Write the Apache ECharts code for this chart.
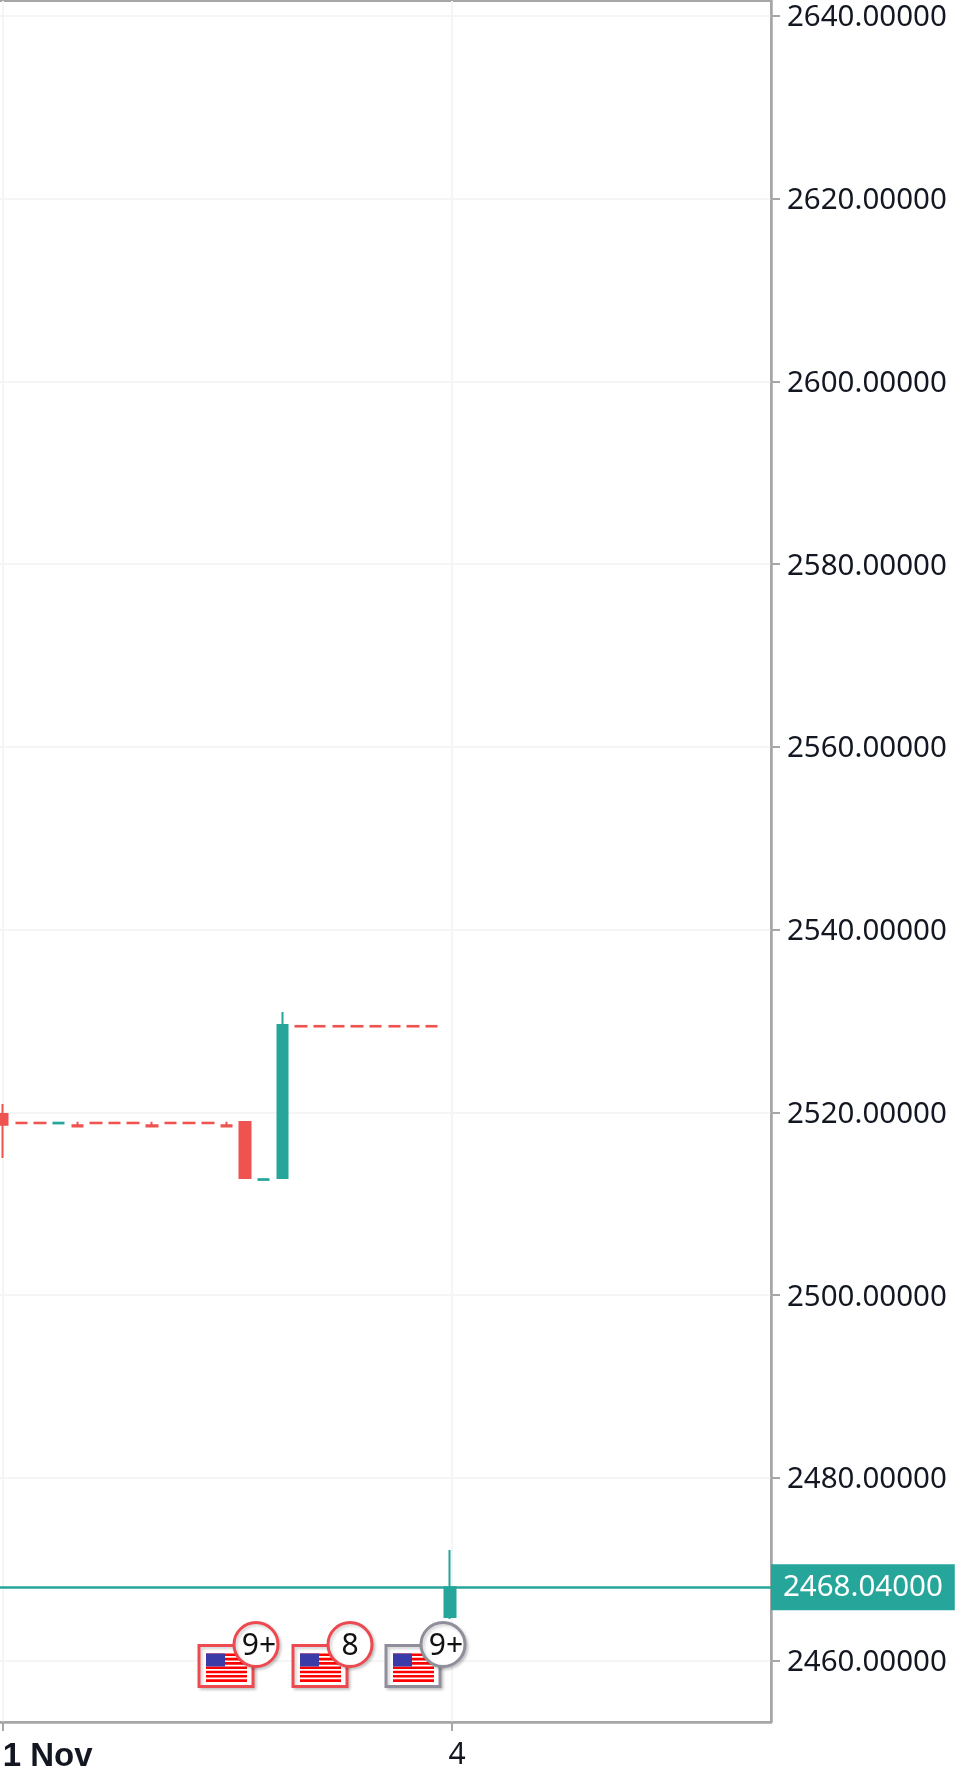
<!DOCTYPE html>
<html><head><meta charset="utf-8">
<style>html,body{margin:0;padding:0;background:#fff}#c{width:959px;height:1783px}</style>
<script src="https://cdn.jsdelivr.net/npm/echarts@6/dist/echarts.min.js"></script>
</head><body><div id="c"></div>
<script>
const barIndex = [0,1,2,3,4,5,6,7,8,9,10,11,12,13,14,15,16,17,18,19,20,21,22,23,24];
const opens  = [2519.83,2518.88,2518.88,2518.80,2518.60,2518.88,2518.88,2518.88,2518.60,2518.88,2518.88,2518.88,2518.60,2518.95,2512.62,2512.82,2529.47,2529.47,2529.47,2529.47,2529.47,2529.47,2529.47,2529.47,2464.78];
const closes = [2518.66,2518.82,2518.82,2518.88,2518.46,2518.82,2518.82,2518.82,2518.46,2518.82,2518.82,2518.82,2518.46,2512.82,2512.70,2529.57,2529.40,2529.40,2529.40,2529.40,2529.40,2529.40,2529.40,2529.40,2468.04];
const lows   = [2515.01,2518.82,2518.82,2518.80,2518.46,2518.82,2518.82,2518.82,2518.46,2518.82,2518.82,2518.82,2518.46,2512.82,2512.62,2512.82,2529.40,2529.40,2529.40,2529.40,2529.40,2529.40,2529.40,2529.40,2464.56];
const highs  = [2520.92,2518.88,2518.88,2518.88,2518.99,2518.88,2518.88,2518.88,2518.99,2518.88,2518.88,2518.88,2518.99,2518.95,2512.70,2531.00,2529.47,2529.47,2529.47,2529.47,2529.47,2529.47,2529.47,2529.47,2472.11];
const lastPrice = 2468.04;
const priceTicks = [2460,2480,2500,2520,2540,2560,2580,2600,2620,2640];
const timeTicks = [0,24.1];
const timeLabels = ['1 Nov','4'];
const eventIndex = [12,17,22];
const eventLevel = [2459.4,2459.4,2459.4];
const eventCounts = ['9+','8','9+'];
const eventPast = [true,true,false];

const RED='#ef5350', GREEN='#26a69a', AXIS='#a6a6a6', GRID='#f5f5f5', TEXT='#131722';
const FONT='"Noto Sans", sans-serif';
const candles = barIndex.map((x,i)=>[x,opens[i],closes[i],lows[i],highs[i]]);
const events = eventIndex.map((x,i)=>[x,eventLevel[i],eventCounts[i],eventPast[i]?1:0]);

function renderFlag(params, api){
  const p = api.coord([api.value(0), api.value(1)]);
  const cx = Math.round(p[0]), cy = Math.round(p[1]);
  const col = api.value(3) ? '#ec4a50' : '#8f8f9b';
  const w=54, h=41;
  const x0=cx-w/2, y0=cy-h/2;
  const count=String(api.value(2));
  const kids=[{type:'rect',shape:{x:x0,y:y0,width:w,height:h},
    style:{fill:'#fff',stroke:col,lineWidth:3,shadowColor:'rgba(0,0,0,0.18)',shadowBlur:3,shadowOffsetX:2,shadowOffsetY:2}}];
  const fx=x0+7, fy=y0+8, fw=41, fh=28, stripe=fh/6.5*0.6;
  for(let s=0;s<7;s++){
    kids.push({type:'rect',shape:{x:fx,y:fy+s*(fh/6.5),width:fw,height:stripe},style:{fill:'#ff0000'}});
  }
  kids.push({type:'rect',shape:{x:fx,y:fy,width:19,height:13},style:{fill:'#3a3aa8'}});
  kids.push({type:'circle',shape:{cx:x0+w+3,cy:y0-1,r:22},
    style:{fill:'#fff',stroke:col,lineWidth:3,shadowColor:'rgba(0,0,0,0.18)',shadowBlur:3,shadowOffsetX:2,shadowOffsetY:2}});
  kids.push({type:'text',style:{x:x0+w+3+(count.length>1?3:0),y:y0+1,text:count,fill:'#111',font:'30px '+FONT,align:'center',verticalAlign:'middle'}});
  return {type:'group',children:kids};
}

const chart = echarts.init(document.getElementById('c'),null,{renderer:'canvas',width:959,height:1783});
chart.setOption({
  animation:false,
  backgroundColor:'#fff',
  grid:{show:true,left:-4,right:188,top:1,bottom:61,borderColor:AXIS,borderWidth:2,backgroundColor:'#fff',outerBoundsMode:'none'},
  xAxis:{type:'value',min:-0.357,max:41.2,
    axisLine:{show:true,onZero:false,lineStyle:{color:AXIS,width:2.5}},
    axisTick:{show:true,length:9,customValues:timeTicks,lineStyle:{color:AXIS,width:2}},
    splitLine:{show:true,lineStyle:{color:GRID,width:2}},
    axisLabel:{customValues:timeTicks,margin:18,showMinLabel:true,showMaxLabel:true,hideOverlap:false,
      formatter:v=>{const i=timeTicks.indexOf(v);return i===0?'{a|'+timeLabels[0]+'}':'{b|'+timeLabels[i]+'}';},
      rich:{a:{fontFamily:'"Liberation Sans",sans-serif',fontWeight:'bold',fontSize:33,color:TEXT,padding:[0,0,0,90]},
            b:{fontFamily:FONT,fontSize:30,color:TEXT,padding:[0,0,0,10]}}}
  },
  yAxis:{type:'value',position:'right',min:2453.29,max:2641.64,
    axisLine:{show:true,onZero:false,lineStyle:{color:AXIS,width:2.5}},
    axisTick:{show:true,length:9,customValues:priceTicks,lineStyle:{color:AXIS,width:2}},
    splitLine:{show:true,lineStyle:{color:GRID,width:2}},
    axisLabel:{customValues:priceTicks,margin:16,showMinLabel:true,showMaxLabel:true,hideOverlap:false,
      formatter:v=>'{p|'+v.toFixed(5)+'}',
      rich:{p:{fontFamily:FONT,fontSize:29.5,color:TEXT,padding:[4,0,0,0]}}}
  },
  series:[
    {type:'candlestick',data:candles,barWidth:11,clip:false,silent:true,
      itemStyle:{color:GREEN,color0:RED,borderColor:GREEN,borderColor0:RED,borderWidth:2},
      markLine:{silent:true,symbol:'none',animation:false,
        data:[{yAxis:lastPrice}],
        lineStyle:{color:GREEN,width:2.5,type:'solid'},
        label:{show:true,position:'end',distance:0,formatter:()=>lastPrice.toFixed(5),
          backgroundColor:GREEN,color:'#fff',fontFamily:FONT,fontSize:29.5,padding:[4,12,6,12],lineHeight:36}}
    },
    {type:'custom',data:events,clip:false,silent:true,z:5,
      encode:{x:0,y:1},renderItem:renderFlag,
      dimensions:['x','y',{name:'count',type:'ordinal'},'past']}
  ]
});
</script></body></html>
